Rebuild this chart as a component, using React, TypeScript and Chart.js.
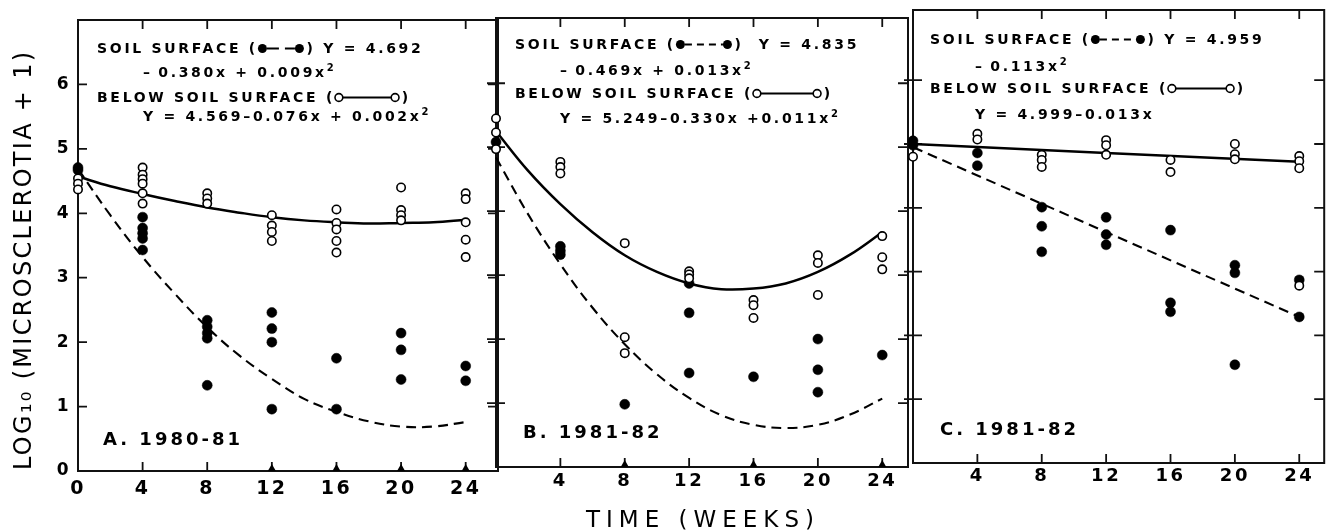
import React, { useEffect, useRef } from 'react';
import { Chart, registerables } from 'chart.js';
Chart.register(...registerables);

// ---------- data ----------
const weeks = [0, 4, 8, 12, 16, 20, 24];
const fitWeeks = [0, 2, 4, 6, 8, 10, 12, 14, 16, 18, 20, 22, 24];
const lineWeeks = [0, 24];
const xTickLabelsA = ['0', '4', '8', '12', '16', '20', '24'];
const xTickLabelsBC = ['', '4', '8', '12', '16', '20', '24'];
const yTickLabels = ['0', '1', '2', '3', '4', '5', '6'];

// Panel A 1980-81
const surfaceA = [[4.71, 4.67], [3.94, 3.77, 3.69, 3.61, 3.43], [2.34, 2.24, 2.14, 2.06, 1.33], [2.46, 2.21, 2.0, 0.96], [1.75, 0.96], [2.14, 1.88, 1.42], [1.63, 1.4]];
const belowA = [[4.54, 4.46, 4.37], [4.71, 4.6, 4.53, 4.46, 4.31, 4.15], [4.31, 4.23, 4.15], [3.97, 3.81, 3.71, 3.57], [4.06, 3.85, 3.75, 3.57, 3.39], [4.4, 4.05, 3.97, 3.89], [4.31, 4.22, 3.86, 3.59, 3.32]];
const zeroA = [12, 16, 20, 24];
const surfaceFitA = [4.69, 3.97, 3.32, 2.75, 2.23, 1.79, 1.43, 1.12, 0.92, 0.77, 0.69, 0.69, 0.76];
const belowFitA = [4.57, 4.42, 4.3, 4.19, 4.09, 4.01, 3.94, 3.89, 3.86, 3.84, 3.85, 3.86, 3.9];

// Panel B 1981-82
const surfaceB = [[5.08], [3.45, 3.38, 3.32], [0.98], [2.87, 2.41, 1.47], [1.41], [2.0, 1.52, 1.17], [1.75]];
const belowB = [[5.45, 5.23, 4.97], [4.77, 4.69, 4.59], [3.5, 2.03, 1.78], [3.06, 3.01, 2.95], [2.61, 2.53, 2.33], [3.31, 3.19, 2.69], [3.61, 3.28, 3.09]];
const zeroB = [8, 16, 24];
const surfaceFitB = [4.84, 3.95, 3.17, 2.49, 1.92, 1.45, 1.08, 0.81, 0.66, 0.61, 0.66, 0.82, 1.07];
const belowFitB = [5.25, 4.63, 4.11, 3.67, 3.31, 3.05, 2.87, 2.78, 2.79, 2.87, 3.05, 3.32, 3.67];

// Panel C 1981-82
const surfaceC = [[5.05, 4.98], [4.86, 4.66], [4.01, 3.71, 3.31], [3.85, 3.58, 3.42], [3.65, 2.51, 2.37], [3.1, 2.98, 1.54], [2.87, 2.29]];
const belowC = [[4.8], [5.16, 5.07], [4.83, 4.75, 4.64], [5.06, 4.98, 4.83], [4.75, 4.56], [5.0, 4.84, 4.76], [4.81, 4.73, 4.62, 2.78]];
const zeroC: number[] = [];
const surfaceFitC = [4.95, 2.29];
const belowFitC = [5.0, 4.72];

// ---------- text ----------
const yTitle = 'LOG₁₀ (MICROSCLEROTIA + 1)';
const xTitle = 'TIME (WEEKS)';
const FONT = '"DejaVu Sans", sans-serif';
const TS = '\u2009'; // thin space

type Sym = { filled: boolean; w: number; dash?: number[] };
type Sup = { sup: string };
type Part = string | Sym | Sup;

const textA: { parts: Part[]; dx: number; dy: number }[] = [
  { parts: ['SOIL SURFACE (', { filled: true, w: 46, dash: [12, 6] }, ') Y = 4.692'], dx: 19, dy: 29 },
  { parts: [`–${TS}0.380x + 0.009x`, { sup: '2' }], dx: 65, dy: 53 },
  { parts: ['BELOW SOIL SURFACE (', { filled: false, w: 64 }, ')'], dx: 19, dy: 78 },
  { parts: ['Y = 4.569–0.076x + 0.002x', { sup: '2' }], dx: 65, dy: 97 },
];
const textB: { parts: Part[]; dx: number; dy: number }[] = [
  { parts: ['SOIL SURFACE (', { filled: true, w: 56, dash: [7, 5] }, ')  Y = 4.835'], dx: 19, dy: 27 },
  { parts: [`–${TS}0.469x + 0.013x`, { sup: '2' }], dx: 64, dy: 53 },
  { parts: ['BELOW SOIL SURFACE (', { filled: false, w: 68 }, ')'], dx: 19, dy: 76 },
  { parts: ['Y = 5.249–0.330x +0.011x', { sup: '2' }], dx: 64, dy: 101 },
];
const textC: { parts: Part[]; dx: number; dy: number }[] = [
  { parts: ['SOIL SURFACE (', { filled: true, w: 54, dash: [7, 5] }, ') Y = 4.959'], dx: 17, dy: 30 },
  { parts: [`–${TS}0.113x`, { sup: '2' }], dx: 62, dy: 57 },
  { parts: ['BELOW SOIL SURFACE (', { filled: false, w: 66 }, ')'], dx: 17, dy: 79 },
  { parts: ['Y = 4.999–0.013x'], dx: 62, dy: 105 },
];

const toPts = (groups: number[][]) => weeks.flatMap((w, i) => groups[i].map((y) => ({ x: w, y })));
const toLine = (xs: number[], ys: number[]) => xs.map((x, i) => ({ x, y: ys[i] }));

function drawSymbol(ctx: CanvasRenderingContext2D, x: number, y: number, s: Sym) {
  const r = s.filled ? 4.5 : 3.9;
  ctx.save();
  ctx.strokeStyle = '#000';
  ctx.lineWidth = 2;
  ctx.setLineDash(s.dash || []);
  ctx.beginPath();
  ctx.moveTo(x + r * 2, y);
  ctx.lineTo(x + s.w - r * 2, y);
  ctx.stroke();
  ctx.setLineDash([]);
  for (const cx of [x + r, x + s.w - r]) {
    ctx.beginPath();
    ctx.arc(cx, y, r, 0, Math.PI * 2);
    if (s.filled) {
      ctx.fillStyle = '#000';
      ctx.fill();
    } else {
      ctx.fillStyle = '#fff';
      ctx.fill();
      ctx.lineWidth = 1.6;
      ctx.stroke();
    }
  }
  ctx.restore();
}

function drawRich(ctx: CanvasRenderingContext2D, x: number, y: number, parts: Part[], spacing: number, font: string, supFont: string) {
  let cx = x;
  for (const p of parts) {
    if (typeof p === 'string') {
      ctx.font = font;
      (ctx as any).letterSpacing = spacing + 'px';
      ctx.fillText(p, cx, y);
      cx += ctx.measureText(p).width;
    } else if ('sup' in p) {
      ctx.font = supFont;
      (ctx as any).letterSpacing = '0px';
      ctx.fillText(p.sup, cx, y - 5);
      cx += ctx.measureText(p.sup).width + spacing;
    } else {
      drawSymbol(ctx, cx, y - 0.5, p);
      cx += p.w + spacing;
    }
  }
}

type Panel = {
  surface: number[][];
  below: number[][];
  zero: number[];
  sFitX: number[];
  sFit: number[];
  bFitX: number[];
  bFit: number[];
  sDash: number[];
  xLabels: string[];
  showY: boolean;
  pad: { left: number; right: number; top: number; bottom: number };
  yWidth: number;
  xHeight: number;
  xMin: number;
  xMax: number;
  yMax: number;
  tickFont: number;
  tickPad: number;
  leftCross: boolean;
  texts: { parts: Part[]; dx: number; dy: number }[];
  label: string;
  labelDx: number;
  labelUp: number;
  extra?: (ctx: CanvasRenderingContext2D) => void;
};

const panels: Panel[] = [
  {
    surface: surfaceA, below: belowA, zero: zeroA, sFitX: fitWeeks, sFit: surfaceFitA, bFitX: fitWeeks, bFit: belowFitA,
    sDash: [10, 6], xLabels: xTickLabelsA, showY: true,
    pad: { left: 0, right: 1330 - 498, top: 20, bottom: 0 }, yWidth: 78, xHeight: 61, xMin: 0, xMax: 26, yMax: 7,
    tickFont: 19, tickPad: 7, leftCross: false, texts: textA, label: 'A. 1980-81', labelDx: 25, labelUp: 31,
    extra: (ctx) => {
      ctx.save();
      ctx.font = `24px ${FONT}`;
      (ctx as any).letterSpacing = '2.3px';
      ctx.fillStyle = '#000';
      ctx.translate(25, 470);
      ctx.rotate(-Math.PI / 2);
      ctx.textAlign = 'left';
      ctx.textBaseline = 'middle';
      ctx.fillText(yTitle, 0, 0);
      ctx.restore();
    },
  },
  {
    surface: surfaceB, below: belowB, zero: zeroB, sFitX: fitWeeks, sFit: surfaceFitB, bFitX: fitWeeks, bFit: belowFitB,
    sDash: [10, 6], xLabels: xTickLabelsBC, showY: false,
    pad: { left: 496, right: 1330 - 908, top: 18, bottom: 0 }, yWidth: 0, xHeight: 65, xMin: 0, xMax: 25.6, yMax: 7.02,
    tickFont: 18, tickPad: 4, leftCross: true, texts: textB, label: 'B. 1981-82', labelDx: 27, labelUp: 34,
    extra: (ctx) => {
      ctx.save();
      ctx.font = `23px ${FONT}`;
      (ctx as any).letterSpacing = '6px';
      ctx.fillStyle = '#000';
      ctx.textAlign = 'center';
      ctx.textBaseline = 'middle';
      ctx.fillText(xTitle, 703, 521);
      ctx.restore();
    },
  },
  {
    surface: surfaceC, below: belowC, zero: zeroC, sFitX: lineWeeks, sFit: surfaceFitC, bFitX: lineWeeks, bFit: belowFitC,
    sDash: [10, 6], xLabels: xTickLabelsBC, showY: false,
    pad: { left: 913, right: 3, top: 10, bottom: 0 }, yWidth: 0, xHeight: 69, xMin: 0, xMax: 25.55, yMax: 7.1,
    tickFont: 18, tickPad: 3, leftCross: true, texts: textC, label: 'C. 1981-82', labelDx: 27, labelUp: 33,
  },
];

function makeChart(canvas: HTMLCanvasElement, p: Panel) {
  const framePlugin = {
    id: 'frame',
    beforeLayout(chart: any) {
      chart.ctx.letterSpacing = '2.5px';
    },
    beforeDraw(chart: any) {
      chart.ctx.letterSpacing = '2.5px';
    },
    beforeDatasetsDraw(chart: any) {
      const { ctx, chartArea: a, scales } = chart;
      const x = scales.x;
      const y = scales.y;
      ctx.save();
      ctx.strokeStyle = '#111';
      ctx.lineWidth = 2;
      ctx.strokeRect(a.left, a.top, a.right - a.left, a.bottom - a.top);
      ctx.lineWidth = 1.8;
      ctx.beginPath();
      for (let v = 1; v <= 6; v++) {
        const py = y.getPixelForValue(v);
        ctx.moveTo(a.left - (p.leftCross ? 9 : 0), py);
        ctx.lineTo(a.left + 9, py);
        ctx.moveTo(a.right - 10, py);
        ctx.lineTo(a.right, py);
      }
      for (let v = 4; v <= 24; v += 4) {
        const px = x.getPixelForValue(v);
        ctx.moveTo(px, a.top);
        ctx.lineTo(px, a.top + 9);
        ctx.moveTo(px, a.bottom);
        ctx.lineTo(px, a.bottom - 9);
      }
      ctx.stroke();
      ctx.restore();
    },
    afterDraw(chart: any) {
      const { ctx, chartArea: a } = chart;
      ctx.save();
      ctx.fillStyle = '#000';
      ctx.textAlign = 'left';
      ctx.textBaseline = 'middle';
      for (const t of p.texts) drawRich(ctx, a.left + t.dx, a.top + t.dy, t.parts, 2.7, `bold 14px ${FONT}`, `bold 10px ${FONT}`);
      ctx.font = `bold 18px ${FONT}`;
      (ctx as any).letterSpacing = '3px';
      ctx.fillText(p.label, a.left + p.labelDx, a.bottom - p.labelUp);
      ctx.restore();
      if (p.extra) p.extra(ctx);
    },
  };

  return new Chart(canvas, {
    type: 'scatter',
    data: {
      datasets: [
        {
          label: 'Below soil surface',
          data: toPts(p.below),
          pointStyle: 'circle',
          pointRadius: 4.2,
          pointBorderWidth: 1.6,
          pointBackgroundColor: '#fff',
          pointBorderColor: '#000',
          clip: false as any,
        },
        {
          label: 'Soil surface',
          data: toPts(p.surface),
          pointStyle: 'circle',
          pointRadius: 5,
          pointBorderWidth: 0.5,
          pointBackgroundColor: '#000',
          pointBorderColor: '#000',
          clip: false as any,
        },
        {
          label: 'Zero',
          data: p.zero.map((w) => ({ x: w, y: 0 })),
          pointStyle: 'triangle',
          pointRadius: 7,
          pointBorderWidth: 0,
          pointBackgroundColor: '#000',
          pointBorderColor: '#000',
        },
        {
          type: 'line' as const,
          label: 'Below fit',
          data: toLine(p.bFitX, p.bFit),
          showLine: true,
          borderColor: '#000',
          borderWidth: 2.5,
          pointRadius: 0,
          tension: 0.4,
          fill: false,
          clip: false as any,
        },
        {
          type: 'line' as const,
          label: 'Surface fit',
          data: toLine(p.sFitX, p.sFit),
          showLine: true,
          borderColor: '#000',
          borderWidth: 2.1,
          borderDash: p.sDash,
          pointRadius: 0,
          tension: 0.4,
          fill: false,
          clip: false as any,
        },
      ] as any,
    },
    options: {
      animation: false,
      responsive: false,
      maintainAspectRatio: false,
      events: [],
      layout: { padding: p.pad },
      plugins: { legend: { display: false }, tooltip: { enabled: false } },
      scales: {
        x: {
          type: 'linear',
          min: p.xMin,
          max: p.xMax,
          grid: { display: false, drawTicks: false },
          border: { display: false },
          ticks: {
            stepSize: 4,
            autoSkip: false,
            includeBounds: false,
            maxRotation: 0,
            padding: p.tickPad,
            color: '#000',
            font: { family: FONT, size: p.tickFont, weight: 'bold' },
            callback: (v: any) => {
              const i = weeks.indexOf(Number(v));
              return i >= 0 && p.xLabels[i] !== '' ? p.xLabels[i] : null;
            },
          },
          afterFit: (s: any) => {
            s.height = p.xHeight;
          },
        },
        y: {
          type: 'linear',
          display: p.showY,
          min: 0,
          max: p.yMax,
          grid: { display: false, drawTicks: false },
          border: { display: false },
          ticks: {
            stepSize: 1,
            padding: 7,
            color: '#000',
            font: { family: FONT, size: 17, weight: 'bold' },
            callback: (v: any) => {
              const n = Number(v);
              return Number.isInteger(n) && n >= 0 && n < yTickLabels.length ? yTickLabels[n] : null;
            },
          },
          afterFit: (s: any) => {
            s.width = p.yWidth;
          },
        },
      },
    } as any,
    plugins: [framePlugin],
  });
}

export default function App() {
  const refs = [useRef<HTMLCanvasElement>(null), useRef<HTMLCanvasElement>(null), useRef<HTMLCanvasElement>(null)];
  useEffect(() => {
    const charts = panels.map((p, i) => makeChart(refs[i].current as HTMLCanvasElement, p));
    return () => charts.forEach((c) => c.destroy());
  }, []);
  return (
    <div style={{ position: 'fixed', left: 0, top: 0, width: 1330, height: 532, background: '#fff' }}>
      {refs.map((r, i) => (
        <canvas
          key={i}
          ref={r}
          width={1330}
          height={532}
          style={{ position: 'absolute', left: 0, top: 0, width: 1330, height: 532 }}
        />
      ))}
    </div>
  );
}
